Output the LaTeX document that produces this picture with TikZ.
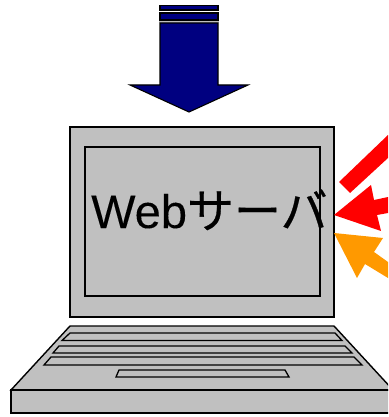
\documentclass[tikz,border=0pt]{standalone}
\usepackage{fontspec}
\usepackage{xcolor}
\setmainfont[FakeBold=0.15]{Liberation Sans}
\newfontfamily\jpfont[FakeBold=0.6]{Noto Sans CJK JP}
\definecolor{bodygray}{RGB}{192,192,192}
\definecolor{arrownavy}{RGB}{0,0,128}
\definecolor{arrowred}{RGB}{255,0,0}
\definecolor{arroworange}{RGB}{255,153,0}

\begin{document}
\begin{tikzpicture}[
  x=1pt, y=-1pt,
  part/.style={draw=black, fill=bodygray, line width=1.4pt, line join=miter},
  keyrow/.style={part, line width=1.3pt},
  bar/.style={draw=black, fill=arrownavy, line width=1.1pt},
  attack/.style={fill=#1, draw=none},
  lbl/.style={font=\fontsize{47}{47}\selectfont, inner sep=0pt, text=black},
]
\useasboundingbox (0,0) rectangle (388,417);
\clip (0,0) rectangle (388,417);

%% Download arrow at the top
\fill[bodygray] (159,20) rectangle (219,23);
\draw[bar] (160,5.5) rectangle (218,10);
\draw[bar] (160,13) rectangle (218,20);
\draw[bar] (160,23) -- (218,23) -- (218,85) -- (248,85) -- (189,112)
  -- (130,85) -- (160,85) -- cycle;

%% Screen
\draw[part] (70,127) rectangle (334,317);
\draw[part] (85,147) rectangle (320,296);

%% Keyboard base, right corner runs past the page
\draw[part] (70,326) -- (334,326) -- (393,390) -- (11,390) -- cycle;
\draw[part] (11,390) rectangle (393,413);
\draw[keyrow] (70,333) -- (335,333) -- (342,340.5) -- (62,340.5) -- cycle;
\draw[keyrow] (59,346) -- (345,346) -- (352,353) -- (53,353) -- cycle;
\draw[keyrow] (51,357) -- (354,357) -- (362,365) -- (44,365) -- cycle;
\draw[keyrow] (119,370) -- (285,370) -- (289,377) -- (116,377) -- cycle;

%% Arrows from the right
\fill[attack=arrowred] (339,182) -- (350,193) -- (388,158) -- (388,135) -- cycle;
\fill[attack=arrowred] (334,215) -- (371,185) -- (374,200) -- (388,197)
  -- (388,213) -- (377,215) -- (381,231) -- cycle;
\fill[attack=arroworange] (334,233) -- (383,238) -- (374,252) -- (388,262)
  -- (388,278) -- (365,264) -- (357,278) -- cycle;

\node[lbl, anchor=base west] (server) at (91,228) {Web{\jpfont サーバ}};

\end{tikzpicture}
\end{document}
